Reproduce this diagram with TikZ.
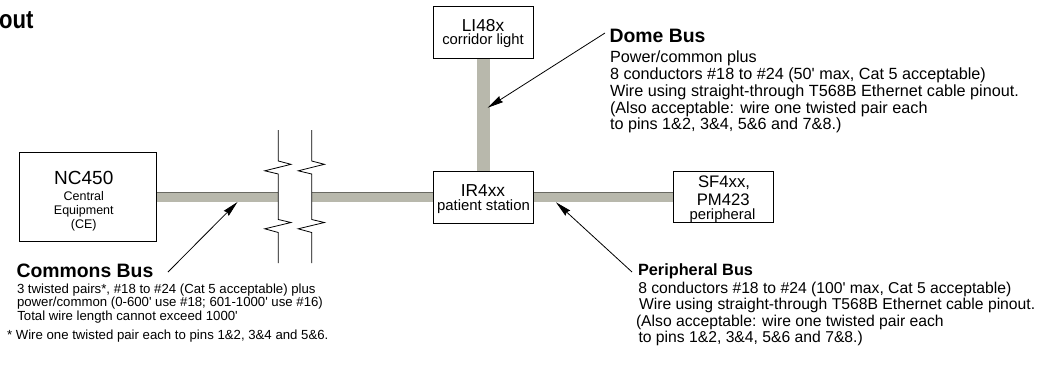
\documentclass[tikz,border=0pt]{standalone}
\usepackage{fontspec}
\setmainfont{Liberation Sans}
\usetikzlibrary{arrows.meta}
\definecolor{barcol}{RGB}{184,184,172}
\definecolor{baredge}{RGB}{105,105,98}
\newcommand{\ap}{\textquotesingle}
\tikzset{
  bar/.style={draw=barcol, line width=10.8pt},
  vbar/.style={draw=barcol, line width=12.5pt},
  baredgeline/.style={draw=baredge, line width=0.6pt},
  boxnode/.style={draw=black, line width=0.9pt, fill=white, inner sep=0pt},
  brk/.style={draw=black, line width=0.8pt, line join=miter},
  arr/.style={draw=black, line width=0.8pt, -{Stealth[length=16pt,width=7pt,inset=1.5pt]}},
  txt/.style={inner sep=0pt, outer sep=0pt},
  lbl/.style={txt, anchor=base},
  ln/.style={txt, anchor=base west},
  hdA/.style={ln, font=\fontsize{19.4}{20}\selectfont\bfseries},
  hdB/.style={ln, font=\fontsize{16.3}{17}\selectfont\bfseries},
  bodyA/.style={ln, font=\fontsize{16.2}{17}\selectfont},
  bodyB/.style={ln, font=\fontsize{15.7}{17}\selectfont},
  bodyC/.style={ln, font=\fontsize{13.2}{14}\selectfont},
}
\begin{document}
\begin{tikzpicture}[x=1pt,y=-1pt]
\useasboundingbox (0,0) rectangle (1058,365);

% boxes (positions)
\coordinate (ncc) at (87.5,197);
\coordinate (irc) at (483.3,197);
\coordinate (ltc) at (483.3,32);
\coordinate (sfc) at (723,197);
\coordinate (b1) at (278.3,197);
\coordinate (b2) at (311.7,197);

% bars
\draw[bar] (ncc) ++(68.5,0) coordinate (nce0) -- (b1);
\draw[bar] (b2) -- (433.3,197) coordinate (irw0);
\draw[bar] (533.3,197) coordinate (ire0) -- (673,197) coordinate (sfw0);
\draw[vbar] (483.3,58) coordinate (lts0) -- (483.3,171) coordinate (irn0);
\draw[baredgeline] (156,191.8) -- (278.3,191.8);
\draw[baredgeline] (311.7,191.8) -- (433.3,191.8);
\draw[baredgeline] (533.3,191.8) -- (673,191.8);

% boxes
\node[boxnode, minimum width=137pt, minimum height=89pt] (nc) at (ncc) {};
\node[boxnode, minimum width=100pt, minimum height=52pt] (ir) at (irc) {};
\node[boxnode, minimum width=100pt, minimum height=52pt] (lt) at (ltc) {};
\node[boxnode, minimum width=100pt, minimum height=51pt] (sf) at (sfc) {};

% box texts
\node[lbl, font=\fontsize{19}{20}\selectfont] (nc1) at (83.8,184) {NC450};
\node[lbl, font=\fontsize{12.5}{13}\selectfont] (nc2) at (83.8,200) {Central};
\node[lbl, font=\fontsize{12.5}{13}\selectfont] (nc3) at (83.8,214) {Equipment};
\node[lbl, font=\fontsize{12.5}{13}\selectfont] (nc4) at (83.8,228.5) {(CE)};

\node[lbl, font=\fontsize{17.3}{18}\selectfont] (ir1) at (483,196) {IR4xx};
\node[lbl, font=\fontsize{14.9}{15}\selectfont] (ir2) at (483.5,210.5) {patient station};

\node[lbl, font=\fontsize{17.3}{18}\selectfont] (lt1) at (483,31.3) {LI48x};
\node[lbl, font=\fontsize{14.8}{15}\selectfont] (lt2) at (483,44.5) {corridor light};

\node[lbl, font=\fontsize{16.7}{17}\selectfont] (sf1) at (724,187.3) {SF4xx,};
\node[lbl, font=\fontsize{16.7}{17}\selectfont] (sf2) at (723.3,205) {PM423};
\node[lbl, font=\fontsize{14.8}{15}\selectfont] (sf3) at (722.5,219.5) {peripheral};

% break marks
\foreach \xx in {278.3,311.7}{
  \draw[brk] (\xx,130) -- (\xx,161) -- (\xx+12.7,164.3) -- (\xx-13.5,170.8) -- (\xx,174)
    -- (\xx,219.5) -- (\xx+12.7,222.5) -- (\xx-13.5,228.8) -- (\xx,232.5) -- (\xx,263);
}

% title fragment
\node[txt, anchor=base east, font=\fontsize{26}{26}\selectfont\bfseries, xscale=0.85, transform shape] (ttl) at (33.5,28.3) {out};

% Dome bus
\node[hdA] (d0) at (609.5,42.7) {Dome Bus};
\node[bodyA] (d1) at (610,62) {Power/common plus};
\node[bodyA] (d2) at (610,79) {8 conductors \#18 to \#24 (50\ap{} max, Cat 5 acceptable)};
\node[bodyA] (d3) at (610,96) {Wire using straight-through T568B Ethernet cable pinout.};
\node[bodyA] (d4) at (610,113) {(Also acceptable: wire one twisted pair each};
\node[bodyA] (d5) at (610,129.5) {to pins 1\&2, 3\&4, 5\&6 and 7\&8.)};

% Peripheral bus
\node[hdB] (p0) at (638,275) {Peripheral Bus};
\node[bodyB] (p1) at (638.3,293) {8 conductors \#18 to \#24 (100\ap{} max, Cat 5 acceptable)};
\node[bodyB] (p2) at (639,309.5) {Wire using straight-through T568B Ethernet cable pinout.};
\node[bodyB] (p3) at (636,326) {(Also acceptable: wire one twisted pair each};
\node[bodyB] (p4) at (638.5,342) {to pins 1\&2, 3\&4, 5\&6 and 7\&8.)};

% Commons bus
\node[hdA] (c0) at (16.5,277) {Commons Bus};
\node[bodyC] (c1) at (17,293) {3 twisted pairs*, \#18 to \#24 (Cat 5 acceptable) plus};
\node[bodyC] (c2) at (17,306.5) {power/common (0-600\ap{} use \#18; 601-1000\ap{} use \#16)};
\node[bodyC] (c3) at (17.3,320) {Total wire length cannot exceed 1000\ap};
\node[bodyC] (c4) at (7,339) {* Wire one twisted pair each to pins 1\&2, 3\&4 and 5\&6.};

% arrows
\coordinate (domeTail) at (605,33);
\coordinate (domeTip) at (487.7,107.7);
\coordinate (comTail) at (168,272);
\coordinate (comTip) at (237.5,202);
\coordinate (perTail) at (632,272);
\coordinate (perTip) at (556,202.3);
\draw[arr] (domeTail) -- (domeTip);
\draw[arr] (comTail) -- (comTip);
\draw[arr] (perTail) -- (perTip);
\end{tikzpicture}
\end{document}
